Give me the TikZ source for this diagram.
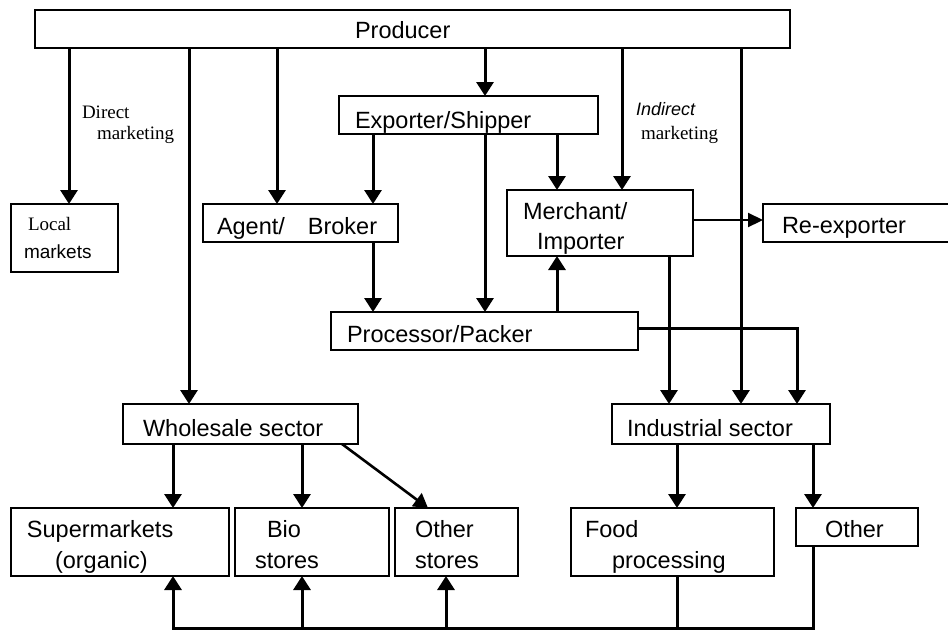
\documentclass[tikz,border=0pt]{standalone}
\usepackage{fontspec}
\setmainfont{Liberation Sans}
\newfontfamily\serifL{Liberation Serif}
\usetikzlibrary{arrows.meta}
\begin{document}
\begin{tikzpicture}[x=1pt,y=-1pt,
  box/.style={draw, line width=1.4pt, inner sep=0pt, outer sep=0pt},
  txt/.style={inner sep=0pt, outer sep=0pt, anchor=base west, font=\fontsize{23.5}{28}\selectfont},
  smalltxt/.style={inner sep=0pt, outer sep=0pt, anchor=base west, font=\fontsize{19}{22}\selectfont},
  sertxt/.style={inner sep=0pt, outer sep=0pt, anchor=base west, font=\serifL\fontsize{19}{22}\selectfont},
  conn/.style={line width=3pt},
  arr/.style={line width=3pt, -{Triangle[width=17pt,length=14pt]}},
  thinarr/.style={line width=2.2pt, -{Triangle[width=14pt,length=15pt]}},
  diagarr/.style={line width=2.6pt, -{Triangle[width=16pt,length=14pt]}}]
\useasboundingbox (0,0) rectangle (948,630);
\clip (0,0) rectangle (948,630);
\fill[white] (0,0) rectangle (948,630);

% columns and rows
\coordinate (cA) at (69,0);
\coordinate (cB) at (189,0);
\coordinate (cC) at (277,0);
\coordinate (cD) at (373,0);
\coordinate (cE) at (485,0);
\coordinate (cF) at (557,0);
\coordinate (cG) at (622,0);
\coordinate (cH) at (669,0);
\coordinate (cI) at (741,0);
\coordinate (cJ) at (797,0);
\coordinate (cK) at (173,0);
\coordinate (cL) at (302,0);
\coordinate (cM) at (446,0);
\coordinate (cN) at (677,0);
\coordinate (cO) at (813,0);
\coordinate (d1) at (342,0);
\coordinate (d2) at (428,0);
\coordinate (rowP) at (0,328);
\coordinate (rowR) at (0,220);
\coordinate (bot) at (0,628);

% boxes
\node[box, minimum width=755pt, minimum height=38pt] (prod) at (412.5,29) {};
\node[box, minimum width=259pt, minimum height=38pt] (exp) at (468.5,115) {};
\node[box, minimum width=107pt, minimum height=68pt] (lm) at (64.5,238) {};
\node[box, minimum width=195pt, minimum height=38pt] (ab) at (300.5,223) {};
\node[box, minimum width=186pt, minimum height=66pt] (mi) at (600,223) {};
\node[box, minimum width=197pt, minimum height=38pt] (re) at (861.5,223) {};
\node[box, minimum width=307pt, minimum height=38pt] (pp) at (484.5,331) {};
\node[box, minimum width=235pt, minimum height=40pt] (ws) at (240.5,424) {};
\node[box, minimum width=218pt, minimum height=40pt] (is) at (721,424) {};
\node[box, minimum width=218pt, minimum height=68pt] (sm) at (120,542) {};
\node[box, minimum width=154pt, minimum height=68pt] (bs) at (312,542) {};
\node[box, minimum width=123pt, minimum height=68pt] (os) at (456.5,542) {};
\node[box, minimum width=203pt, minimum height=68pt] (fp) at (672.5,542) {};
\node[box, minimum width=122pt, minimum height=38pt] (ot) at (857,527) {};

% texts
\node[txt] (tprod) at (355,38) {Producer};
\node[txt] (texp) at (355,128) {Exporter/Shipper};
\node[sertxt] (tdir1) at (82,118) {Direct};
\node[sertxt] (tdir2) at (97,139) {marketing};
\node[smalltxt, font=\itshape\fontsize{18}{22}\selectfont] (tind1) at (636,115) {Indirect};
\node[sertxt] (tind2) at (641,139) {marketing};
\node[sertxt] (tlm1) at (28,230) {Local};
\node[smalltxt] (tlm2) at (24,258) {markets};
\node[txt] (tab) at (217,234) {Agent/\hspace{23pt}Broker};
\node[txt] (tpp) at (347,342) {Processor/Packer};
\node[txt] (tmi1) at (523,219) {Merchant/};
\node[txt] (tmi2) at (537,249) {Importer};
\node[txt] (tre) at (782,233) {Re-exporter};
\node[txt] (tws) at (143,436) {Wholesale sector};
\node[txt] (tis) at (627,436) {Industrial sector};
\node[txt] (tsm1) at (27,537) {Supermarkets};
\node[txt] (tsm2) at (55,568) {(organic)};
\node[txt] (tbs1) at (267,537) {Bio};
\node[txt] (tbs2) at (255,568) {stores};
\node[txt] (tos1) at (415,537) {Other};
\node[txt] (tos2) at (415,568) {stores};
\node[txt] (tfp1) at (585,537) {Food};
\node[txt] (tfp2) at (612,568) {processing};
\node[txt] (tot) at (825,537) {Other};

% connectors from producer
\draw[arr] (prod.south -| cA) -- (lm.north -| cA);
\draw[arr] (prod.south -| cB) -- (ws.north -| cB);
\draw[arr] (prod.south -| cC) -- (ab.north -| cC);
\draw[arr] (prod.south -| cE) -- (exp.north -| cE);
\draw[arr] (prod.south -| cG) -- (mi.north -| cG);
\draw[arr] (prod.south -| cI) -- (is.north -| cI);

% from exporter
\draw[arr] (exp.south -| cD) -- (ab.north -| cD);
\draw[arr] (exp.south -| cE) -- (pp.north -| cE);
\draw[arr] (exp.south -| cF) -- (mi.north -| cF);

% agent, processor, merchant
\draw[arr] (ab.south -| cD) -- (pp.north -| cD);
\draw[arr] (pp.north -| cF) -- (mi.south -| cF);
\draw[thinarr] (mi.east |- rowR) -- (re.west |- rowR);
\draw[arr] (mi.south -| cH) -- (is.north -| cH);
\draw[arr] (pp.east |- rowP) -- (rowP -| cJ) -- (is.north -| cJ);

% wholesale
\draw[arr] (ws.south -| cK) -- (sm.north -| cK);
\draw[arr] (ws.south -| cL) -- (bs.north -| cL);
\draw[diagarr] (ws.south -| d1) -- (os.north -| d2);

% industrial
\draw[arr] (is.south -| cN) -- (fp.north -| cN);
\draw[arr] (is.south -| cO) -- (ot.north -| cO);

% return loop
\draw[arr, line join=miter] (ot.south -| cO) -- (bot -| cO) -- (bot -| cK) -- (sm.south -| cK);
\draw[conn] (fp.south -| cN) -- (bot -| cN);
\draw[arr] (bot -| cL) -- (bs.south -| cL);
\draw[arr] (bot -| cM) -- (os.south -| cM);
\end{tikzpicture}
\end{document}
